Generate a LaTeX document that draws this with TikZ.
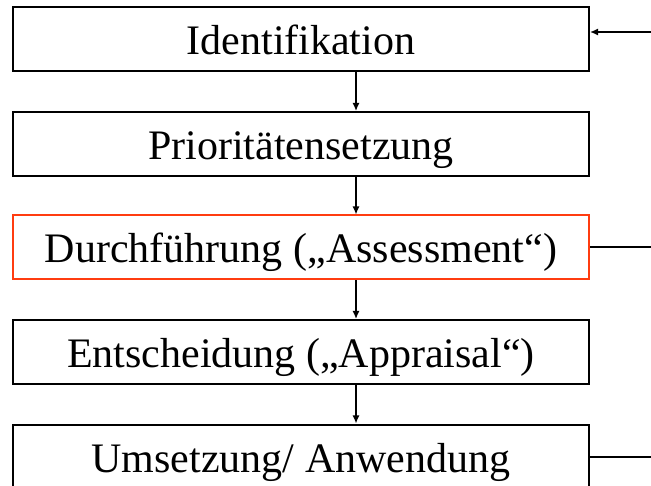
\documentclass[tikz,border=0pt]{standalone}
\usepackage{fontspec}
\setmainfont{Liberation Serif}
\usetikzlibrary{arrows.meta}
\definecolor{hlred}{RGB}{255,60,16}
\tikzset{
  stage/.style={draw, line width=2pt, minimum width=576pt, minimum height=64pt,
    inner sep=0pt, text height=31pt, text depth=0pt, font=\fontsize{42}{46}\selectfont},
  flow/.style={-{Latex[length=8pt,width=7pt]}, line width=1.4pt},
}
\begin{document}
\begin{tikzpicture}[x=1pt,y=-1pt]
  \useasboundingbox (0,0) rectangle (651,486);
  % stages
  \node[stage] (ident) at (301,39.5) {Identifikation};
  \node[stage] (prio) at (301,144) {Prioritätensetzung};
  \node[stage, draw=hlred] (assess) at (301,247.5) {Durchführung („Assessment“)};
  \node[stage] (appr) at (301,352) {Entscheidung („Appraisal“)};
  \node[stage] (impl) at (301,456.5) {Umsetzung/ Anwendung};

  % arrows down
  \coordinate (ax) at (356,0);
  \draw[flow] (ident.south -| ax) -- (prio.north -| ax);
  \draw[flow] (prio.south -| ax) -- (assess.north -| ax);
  \draw[flow] (assess.south -| ax) -- (appr.north -| ax);
  \draw[flow] (appr.south -| ax) -- (impl.north -| ax);

  % lines on the right
  \coordinate (fb) at (651,32);
  \coordinate (ro) at (651,0);
  \draw[flow] (fb) -- (fb -| ident.east);
  \draw[line width=2pt] (assess.east) -- (assess.east -| ro);
  \draw[line width=2pt] (impl.east) -- (impl.east -| ro);
\end{tikzpicture}
\end{document}
